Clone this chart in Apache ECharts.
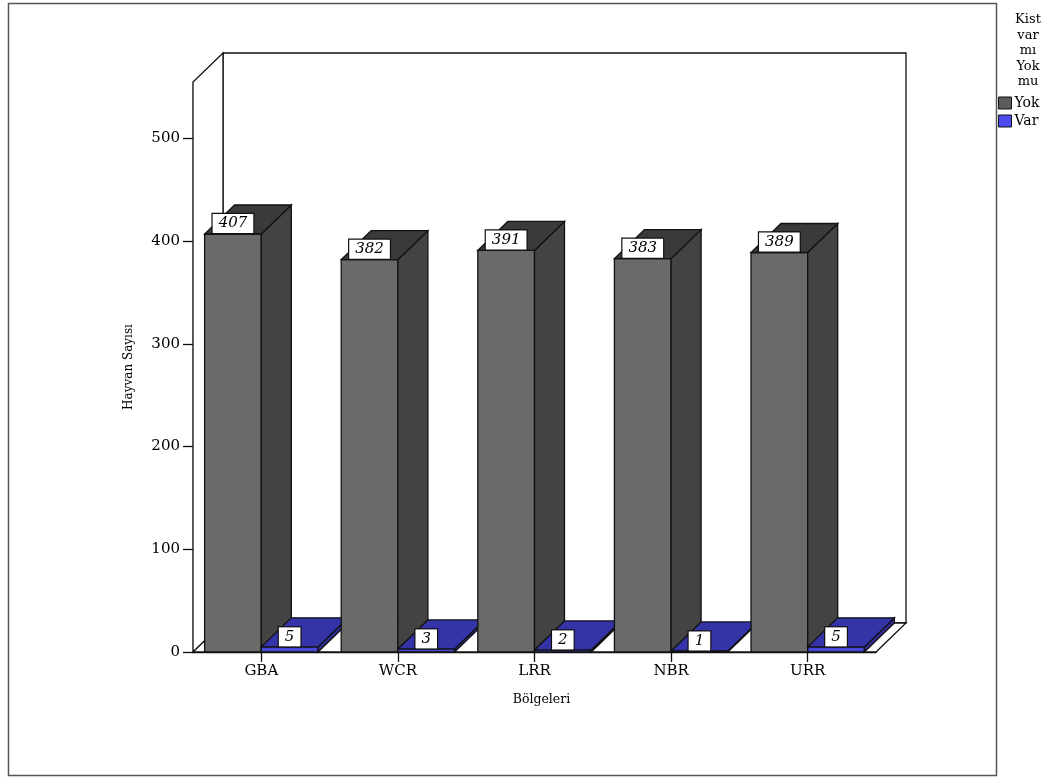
<!DOCTYPE html>
<html>
<head>
<meta charset="utf-8">
<script src="https://cdn.jsdelivr.net/npm/echarts@6/dist/echarts.min.js"></script>
<style>
  html, body { margin: 0; padding: 0; background: #fff; }
  #chart { width: 1064px; height: 781px; }
</style>
</head>
<body>
<div id="chart"></div>
<script>
// Hayvan sayıları: bölgelere göre kist durumu
const categories = ['GBA', 'WCR', 'LRR', 'NBR', 'URR'];
const yokValues = [407, 382, 391, 383, 389];
const varValues = [5, 3, 2, 1, 5];
const seriesNames = ['Yok', 'Var'];
const yTicks = [0, 100, 200, 300, 400, 500];
const legendTitle = 'Kist\nvar\nmı\nYok\nmu';
const xName = 'Bölgeleri';
const yName = 'Hayvan Sayısı';

// pseudo-3D depth offset (pixels)
const DX = 30, DY = -29;
const SERIF = "'DejaVu Serif', 'Liberation Serif', serif";
const colors = {
  Yok: { front: '#6a6a6a', side: '#434343', top: '#3a3a3a', swatch: '#5c5c5c' },
  Var: { front: '#4848d8', side: '#2e2e96', top: '#3434a8', swatch: '#4c4cf0' }
};
const EDGE = { stroke: '#111', lineWidth: 1.3 };

function poly(points, fill) {
  return { type: 'polygon', shape: { points: points }, style: Object.assign({ fill: fill }, EDGE) };
}

// front, side and top faces of one block
function block(x0, x1, yTop, yBase, c) {
  return [
    poly([[x0, yBase], [x1, yBase], [x1, yTop], [x0, yTop]], c.front),
    poly([[x1, yBase], [x1 + DX, yBase + DY], [x1 + DX, yTop + DY], [x1, yTop]], c.side),
    poly([[x0, yTop], [x1, yTop], [x1 + DX, yTop + DY], [x0 + DX, yTop + DY]], c.top)
  ];
}

function valueTag(text, x, y) {
  return {
    type: 'text', z2: 50,
    style: {
      text: text, x: x, y: y,
      align: 'center', verticalAlign: 'bottom',
      font: "italic 15px " + SERIF, fill: '#000',
      backgroundColor: '#fff', borderColor: '#111', borderWidth: 1.2,
      padding: [2, 6]
    }
  };
}

const chart = echarts.init(document.getElementById('chart'), null, { renderer: 'canvas' });

const option = {
  animation: false,
  backgroundColor: '#fff',
  grid: { left: 193, right: 188, top: 82, bottom: 129 },
  xAxis: {
    type: 'category',
    data: categories,
    name: xName,
    nameLocation: 'middle',
    nameGap: 41,
    nameTextStyle: { fontFamily: SERIF, fontSize: 12.5, color: '#000', padding: [0, 0, 0, 14] },
    axisLine: { show: true, lineStyle: { color: '#111', width: 1.3 } },
    axisTick: { show: true, alignWithLabel: true, interval: 0, length: 10, lineStyle: { color: '#111', width: 1.3 } },
    axisLabel: { interval: 0, margin: 12, fontFamily: SERIF, fontSize: 15, color: '#000' },
    splitLine: { show: false }
  },
  yAxis: {
    type: 'value',
    min: 0, max: 555, interval: 100,
    name: yName,
    nameLocation: 'middle',
    nameGap: 58,
    nameTextStyle: { fontFamily: SERIF, fontSize: 12, color: '#000' },
    axisLine: { show: true, lineStyle: { color: '#111', width: 1.3 } },
    axisTick: { show: true, length: 10, customValues: yTicks, lineStyle: { color: '#111', width: 1.3 } },
    axisLabel: { margin: 13, customValues: yTicks, fontFamily: SERIF, fontSize: 15, color: '#000' },
    splitLine: { show: false }
  },
  legend: {
    orient: 'vertical',
    left: 998, top: 96,
    padding: 0,
    itemWidth: 13, itemHeight: 12, itemGap: 4,
    icon: 'rect',
    selectedMode: false,
    itemStyle: { borderColor: '#111', borderWidth: 1 },
    textStyle: { fontFamily: SERIF, fontSize: 14, color: '#000', padding: [0, 0, 0, -2] },
    data: seriesNames
  },
  graphic: [
    { type: 'rect', shape: { x: 8.5, y: 3.5, width: 988, height: 772 }, style: { fill: 'none', stroke: '#555', lineWidth: 1.5 }, silent: true },
    { type: 'text', x: 1028, y: 12, style: { text: legendTitle, align: 'center', font: '13px ' + SERIF, lineHeight: 15.5, fill: '#000' }, silent: true }
  ],
  series: [
    {
      // walls and floor of the box
      type: 'custom', name: 'frame', silent: true,
      data: [[0, 0]],
      renderItem: function (params) {
        const cs = params.coordSys;
        const x0 = cs.x, x1 = cs.x + cs.width, yT = cs.y, yB = cs.y + cs.height;
        return {
          type: 'group',
          children: [
            poly([[x0 + DX, yT + DY], [x1 + DX, yT + DY], [x1 + DX, yB + DY], [x0 + DX, yB + DY]], '#fff'),
            poly([[x0, yB], [x0, yT], [x0 + DX, yT + DY], [x0 + DX, yB + DY]], '#fff'),
            poly([[x0, yB], [x1, yB], [x1 + DX, yB + DY], [x0 + DX, yB + DY]], '#fff')
          ]
        };
      }
    },
    {
      // both bars of a region in one item so they stack front-to-back correctly
      type: 'custom', name: 'bars', silent: true,
      encode: { x: 0, y: [1, 2] },
      data: categories.map(function (c, i) { return [i, yokValues[i], varValues[i]]; }),
      renderItem: function (params, api) {
        const i = api.value(0);
        const yv = api.value(1), vv = api.value(2);
        const base = api.coord([i, 0]);
        const cx = base[0], yB = base[1];
        const w = api.size([1, 0])[0] * 0.415;
        const yTopYok = api.coord([i, yv])[1];
        const yTopVar = api.coord([i, vv])[1];
        const kids = []
          .concat(block(cx - w, cx, yTopYok, yB, colors.Yok))
          .concat(block(cx, cx + w, yTopVar, yB, colors.Var));
        kids.push(valueTag(String(yv), cx - w / 2, yTopYok - 1));
        kids.push(valueTag(String(vv), cx + w / 2, yTopVar - 0.5));
        return { type: 'group', children: kids };
      }
    },
    { type: 'custom', name: 'Yok', data: [], renderItem: function () { return null; }, itemStyle: { color: colors.Yok.swatch } },
    { type: 'custom', name: 'Var', data: [], renderItem: function () { return null; }, itemStyle: { color: colors.Var.swatch } }
  ]
};

chart.setOption(option);
</script>
</body>
</html>
